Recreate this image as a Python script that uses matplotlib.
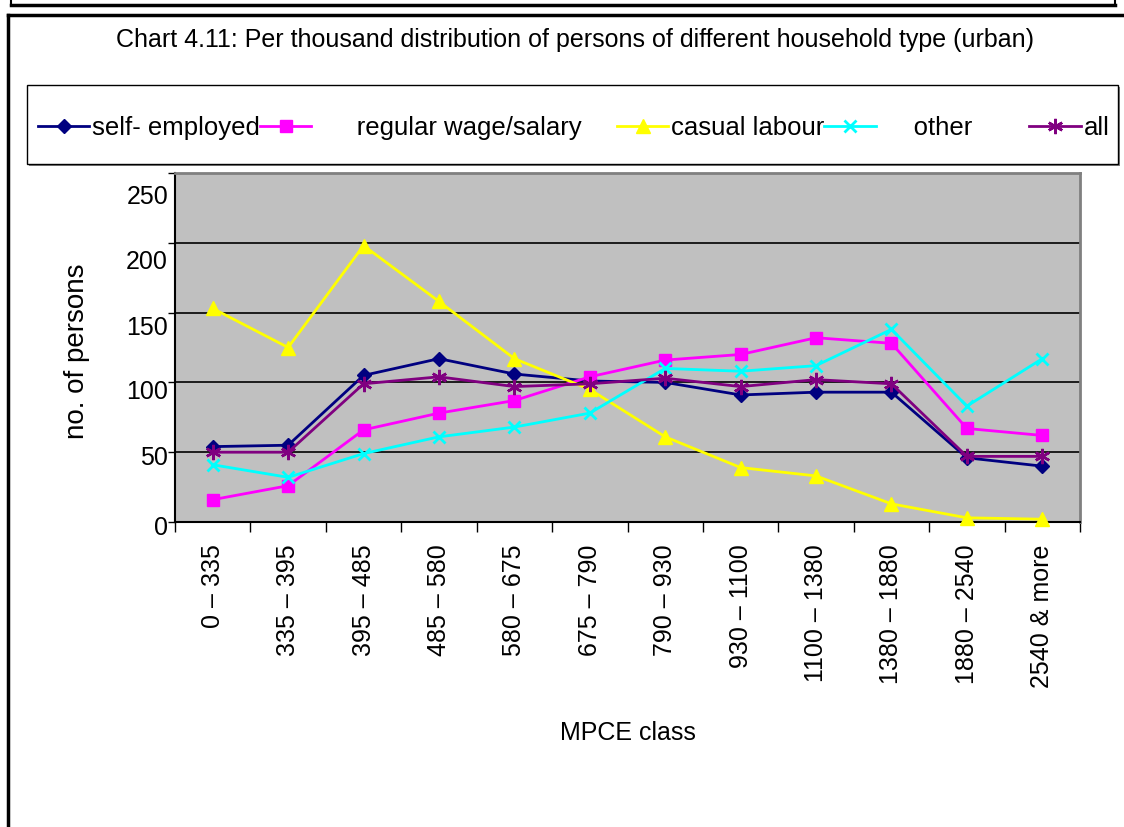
import matplotlib
matplotlib.use("Agg")
import matplotlib.pyplot as plt
import matplotlib.transforms as mtransforms
from matplotlib.patches import Rectangle
from matplotlib.lines import Line2D

plt.rcParams['font.family'] = ['Liberation Sans', 'DejaVu Sans']

# MPCE classes (x categories)
mpce_classes = ['0 – 335', '335 – 395', '395 – 485', '485 – 580', '580 – 675',
                '675 – 790', '790 – 930', '930 – 1100', '1100 – 1380',
                '1380 – 1880', '1880 – 2540', '2540 & more']

# per thousand persons
self_employed = [54, 55, 105, 117, 106, 101, 100, 91, 93, 93, 46, 40]
regular_wage = [16, 26, 66, 78, 87, 104, 116, 120, 132, 128, 67, 62]
casual_labour = [153, 125, 198, 158, 117, 95, 61, 39, 33, 13, 3, 2]
other = [41, 32, 49, 61, 68, 78, 110, 108, 112, 138, 83, 117]
all_types = [50, 50, 99, 104, 97, 99, 103, 97, 102, 99, 47, 47]

y_ticks = [0, 50, 100, 150, 200, 250]

fig = plt.figure(figsize=(11.24, 8.27), dpi=100)

# outer frames (pixel helpers)
W, H = 1124, 827
def fx(px): return px / W
def fy(py): return 1 - py / H
fig.add_artist(Line2D([fx(11), fx(1115)], [fy(5), fy(5)], color='black', lw=2.5))
fig.add_artist(Line2D([fx(11), fx(11)], [fy(0), fy(5)], color='black', lw=1.5))
fig.add_artist(Line2D([fx(1115), fx(1115)], [fy(0), fy(5)], color='black', lw=1.5))
fig.add_artist(Line2D([fx(8), fx(1124)], [fy(15), fy(15)], color='black', lw=2.5))
fig.add_artist(Line2D([fx(8), fx(8)], [fy(15), fy(827)], color='black', lw=2.5))

fig.text(fx(575), fy(40), 'Chart 4.11: Per thousand distribution of persons of different household type (urban)',
         ha='center', va='center', fontsize=18)

# legend box with shadow
fig.add_artist(Rectangle((fx(29), fy(166)), fx(1120) - fx(29), fy(87) - fy(166),
                         facecolor='#808080', edgecolor='none', transform=fig.transFigure))
fig.add_artist(Rectangle((fx(27), fy(164)), fx(1118) - fx(27), fy(85) - fy(164),
                         facecolor='white', edgecolor='black', lw=1, transform=fig.transFigure))

ax = fig.add_axes([fx(175), fy(522), fx(1080) - fx(175), fy(173) - fy(522)])
ax.set_facecolor('#C0C0C0')

x = list(range(len(mpce_classes)))
series = [
    (self_employed, 'self- employed', '#000080', 'D', 7, 1.0),
    (regular_wage, '      regular wage/salary     ', '#FF00FF', 's', 8.5, 1.0),
    (casual_labour, 'casual labour', '#FFFF00', '^', 10, 1.0),
    (other, '     other        ', '#00FFFF', 'x', 9, 2.0),
    (all_types, 'all', '#800080', (6, 2, 0), 11, 1.8),
]
handles = []
for vals, lab, col, mk, ms, mew in series:
    h, = ax.plot(x, vals, color=col, lw=2, marker=mk, markersize=ms,
                 markeredgewidth=mew, markerfacecolor=col, markeredgecolor=col,
                 label=lab, clip_on=False, zorder=3)
    handles.append(h)

ax.set_xlim(-0.5, len(mpce_classes) - 0.5)
ax.set_ylim(0, 250)
ax.set_yticks(y_ticks)
ax.set_yticklabels([])
for v in y_ticks[1:-1]:
    ax.axhline(v, color='black', lw=1.2, zorder=1)

# excel draws the value labels a bit low, more so near the top
shifts = [6, 6, 10, 15, 19, 24]
for v, s in zip(y_ticks, shifts):
    tr = ax.get_yaxis_transform() + mtransforms.ScaledTranslation(-7 / 100, -s / 100, fig.dpi_scale_trans)
    ax.text(0, v, str(v), transform=tr, ha='right', va='center', fontsize=18)

ax.set_xticks([i + 0.5 for i in range(-1, len(mpce_classes))])
ax.set_xticklabels([])
ax.set_xticks(x, minor=True)
ax.set_xticklabels(mpce_classes, minor=True, rotation=90, fontsize=18, va='top', ha='center')
ax.tick_params(axis='x', which='minor', length=0, pad=16)
ax.tick_params(axis='x', which='major', length=7, width=1, direction='out')
ax.tick_params(axis='y', length=5, width=1, direction='out')

for side in ['top', 'right']:
    ax.spines[side].set_color('#808080')
    ax.spines[side].set_linewidth(2)
for side in ['left', 'bottom']:
    ax.spines[side].set_color('black')
    ax.spines[side].set_linewidth(1.5)

ax.set_ylabel('no. of persons', fontsize=20)
ax.yaxis.set_label_coords(-0.094, 0.49)
ax.set_xlabel('MPCE class', fontsize=18, labelpad=24)

fig.legend(handles=handles, loc='center left', bbox_to_anchor=(fx(38), fy(128)),
           ncol=5, frameon=False, fontsize=18.5, handlelength=2.0, handletextpad=0.1,
           columnspacing=0.0, borderaxespad=0, borderpad=0)

fig.savefig('out.png', dpi=100)
